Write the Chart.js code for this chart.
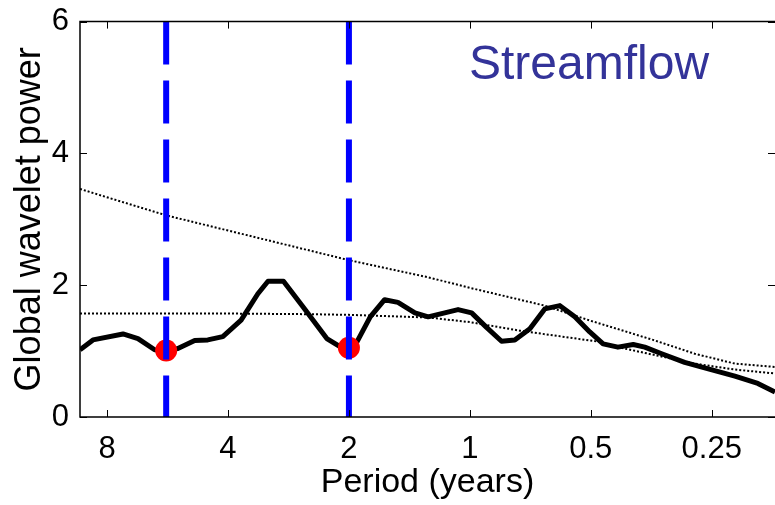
<!DOCTYPE html>
<html>
<head>
<meta charset="utf-8">
<script src="https://cdn.jsdelivr.net/npm/chart.js@4.4.1/dist/chart.umd.min.js"></script>
<style>
  body { margin: 0; background: #fff; }
</style>
</head>
<body>
<canvas id="myChart" width="775" height="505"></canvas>
<script>
// tick values for the two axes
var periodTicks = [8, 4, 2, 1, 0.5, 0.25];
var powerTicks = [0, 2, 4, 6];

// global wavelet power of streamflow
var periods = [9.34, 8.67, 7.30, 6.70, 6.09, 5.70, 5.33, 4.84, 4.49, 4.12, 3.71, 3.37, 3.18, 2.91,
  2.60, 2.27, 2.11, 2.00, 1.91, 1.77, 1.63, 1.51, 1.37, 1.27, 1.07, 0.99, 0.909, 0.834, 0.773,
  0.709, 0.651, 0.597, 0.548, 0.503, 0.466, 0.428, 0.392, 0.367, 0.333, 0.292, 0.255, 0.219,
  0.192, 0.174];
var power = [1.02, 1.17, 1.26, 1.19, 1.02, 1.01, 1.04, 1.16, 1.17, 1.22, 1.47, 1.87, 2.06, 2.06,
  1.67, 1.19, 1.07, 1.05, 1.14, 1.52, 1.78, 1.74, 1.58, 1.52, 1.63, 1.58, 1.36, 1.15, 1.17,
  1.34, 1.64, 1.69, 1.52, 1.29, 1.11, 1.06, 1.10, 1.06, 0.96, 0.83, 0.73, 0.62, 0.51, 0.38];

// upper dotted curve (significance level)
var sigPeriods = [9.34, 5.70, 4.0, 2.0, 1.27, 1.0, 0.651, 0.5, 0.35, 0.2755, 0.219, 0.174];
var sigPower = [3.46, 3.06, 2.83, 2.38, 2.12, 1.96, 1.69, 1.46, 1.17, 0.96, 0.81, 0.76];

// lower dotted curve (background spectrum)
var bgPeriods = [9.34, 4.0, 2.5, 2.0, 1.27, 1.0, 0.751, 0.475, 0.428, 0.2755, 0.219, 0.174];
var bgPower = [1.57, 1.57, 1.56, 1.55, 1.51, 1.44, 1.31, 1.14, 1.06, 0.81, 0.72, 0.66];

// marked periods (dashed lines + red dots)
var markPeriods = [5.7, 2];
var markPower = [1.01, 1.05];

var panelLabel = 'Streamflow';

function pts(xs, ys) {
  return xs.map(function (x, i) { return { x: x, y: ys[i] }; });
}

var datasets = [];
// dashed vertical lines on top
markPeriods.forEach(function (p) {
  datasets.push({
    data: [{ x: p, y: 6 }, { x: p, y: 0 }],
    showLine: true,
    borderColor: '#0000ff',
    borderWidth: 6,
    borderDash: [43, 16],
    borderCapStyle: 'butt',
    pointRadius: 0
  });
});
datasets.push({
  data: pts(markPeriods, markPower),
  showLine: false,
  pointRadius: 11,
  pointBackgroundColor: '#ff0000',
  pointBorderWidth: 0
});
datasets.push({
  data: pts(periods, power),
  showLine: true,
  borderColor: '#000',
  borderWidth: 5,
  borderJoinStyle: 'round',
  tension: 0,
  pointRadius: 0
});
datasets.push({
  data: pts(sigPeriods, sigPower),
  showLine: true,
  borderColor: '#000',
  borderWidth: 2,
  borderDash: [2, 2],
  pointRadius: 0
});
datasets.push({
  data: pts(bgPeriods, bgPower),
  showLine: true,
  borderColor: '#000',
  borderWidth: 2,
  borderDash: [2, 2],
  pointRadius: 0
});

// box with inward ticks and the panel label
var frame = {
  id: 'frame',
  afterDraw: function (chart) {
    var ctx = chart.ctx, a = chart.chartArea;
    var xs = chart.scales.x, ys = chart.scales.y;
    ctx.save();
    ctx.strokeStyle = '#000';
    ctx.lineWidth = 1.5;
    ctx.beginPath();
    ctx.moveTo(a.right + 2, a.top);
    ctx.lineTo(a.left, a.top);
    ctx.lineTo(a.left, a.bottom);
    ctx.lineTo(a.right + 2, a.bottom);
    ctx.stroke();
    ctx.lineWidth = 1;
    ctx.beginPath();
    xs.ticks.forEach(function (t) {
      var px = Math.round(xs.getPixelForValue(t.value)) + 0.5;
      ctx.moveTo(px, a.bottom); ctx.lineTo(px, a.bottom - 7);
      ctx.moveTo(px, a.top); ctx.lineTo(px, a.top + 7);
    });
    ys.ticks.forEach(function (t) {
      var py = Math.round(ys.getPixelForValue(t.value)) + 0.5;
      ctx.moveTo(a.left, py); ctx.lineTo(a.left + 7, py);
      ctx.moveTo(a.right, py); ctx.lineTo(a.right - 7, py);
    });
    ctx.stroke();
    ctx.fillStyle = '#333399';
    ctx.font = "48px 'Liberation Sans', Arial, sans-serif";
    ctx.textBaseline = 'alphabetic';
    ctx.fillText(panelLabel, 469, 79);
    ctx.restore();
  }
};

Chart.defaults.font.family = "'Liberation Sans', Arial, sans-serif";
Chart.defaults.color = '#000';

var ctx = document.getElementById('myChart').getContext('2d');
var myChart = new Chart(ctx, {
  type: 'scatter',
  data: { datasets: datasets },
  options: {
    responsive: false,
    animation: false,
    layout: { autoPadding: false, padding: { top: 20, right: 0, left: 0, bottom: 0 } },
    plugins: { legend: { display: false }, tooltip: { enabled: false } },
    scales: {
      x: {
        type: 'logarithmic',
        reverse: true,
        min: 0.174,
        max: 9.34,
        grid: { display: false },
        border: { display: false },
        afterBuildTicks: function (scale) {
          scale.ticks = periodTicks.map(function (v) { return { value: v }; });
        },
        afterFit: function (scale) {
          scale.height = 88;
        },
        ticks: {
          autoSkip: false,
          maxRotation: 0,
          padding: 6,
          font: { size: 31 },
          callback: function (v) { return String(v); }
        },
        title: {
          display: true,
          text: 'Period (years)',
          font: { size: 34 },
          padding: { top: 0, bottom: 2 }
        }
      },
      y: {
        min: 0,
        max: 6,
        grid: { display: false },
        border: { display: false },
        afterBuildTicks: function (scale) {
          scale.ticks = powerTicks.map(function (v) { return { value: v }; });
        },
        afterFit: function (scale) {
          scale.width = 80;
        },
        ticks: {
          padding: 3,
          font: { size: 31 }
        },
        title: {
          display: true,
          text: 'Global wavelet power',
          font: { size: 36 },
          padding: { top: 8, bottom: 0 }
        }
      }
    }
  },
  plugins: [frame]
});
</script>
</body>
</html>
